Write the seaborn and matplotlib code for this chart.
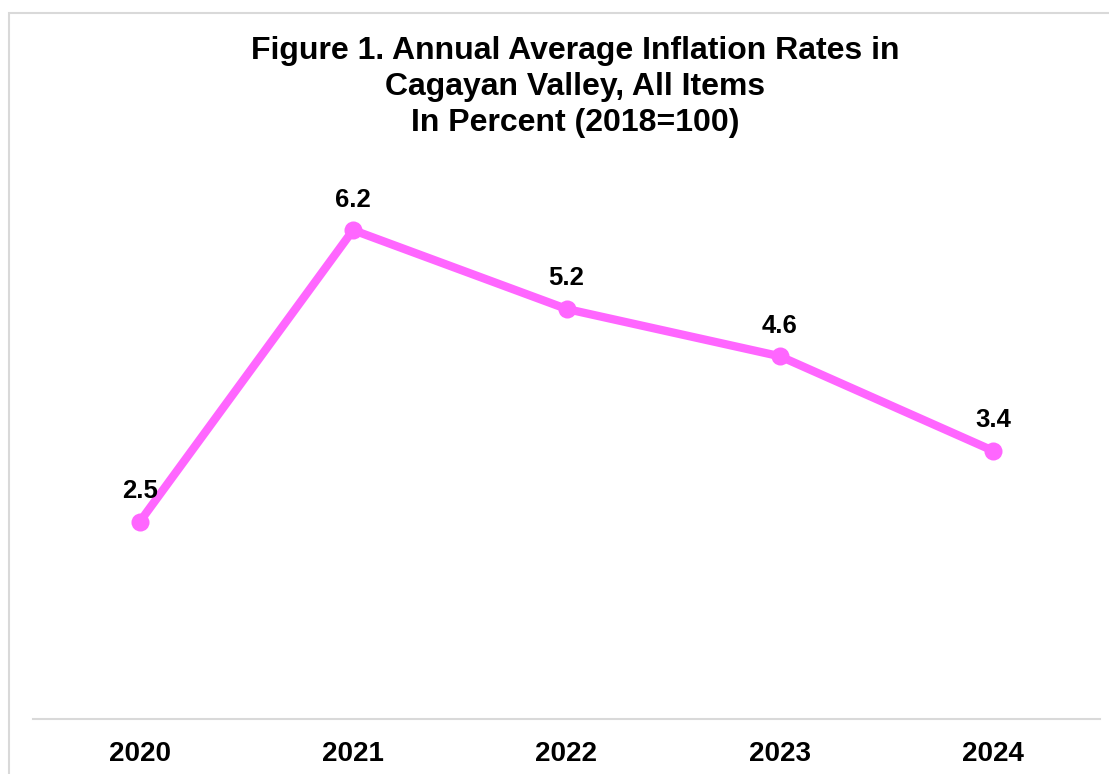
import pandas as pd
import seaborn as sns
import matplotlib.pyplot as plt
from matplotlib.patches import Rectangle

years = ["2020", "2021", "2022", "2023", "2024"]
inflation = [2.5, 6.2, 5.2, 4.6, 3.4]
title = "Figure 1. Annual Average Inflation Rates in\nCagayan Valley, All Items\nIn Percent (2018=100)"

df = pd.DataFrame({"Year": years, "Inflation": inflation})

sns.set_theme(style="white")
plt.rcParams["font.family"] = ["Liberation Sans", "DejaVu Sans"]

fig = plt.figure(figsize=(11.09, 7.74), dpi=100)
ax = fig.add_axes([33 / 1109, 1 - 719 / 774, 1067 / 1109, 552 / 774])

line_color = "#FF66FF"
sns.lineplot(data=df, x="Year", y="Inflation", ax=ax, color=line_color,
             linewidth=6, marker="o", markersize=13, markeredgewidth=0, sort=False)

for i, v in enumerate(inflation):
    ax.annotate(f"{v}", (i, v), xytext=(0, 22), textcoords="offset points",
                ha="center", va="center", fontsize=18.5, fontweight="bold", color="black")

ax.set_xlim(-0.5, len(years) - 0.5)
ax.set_ylim(0, 7)
ax.set_xlabel("")
ax.set_ylabel("")
ax.set_yticks([])
ax.tick_params(axis="x", length=0, pad=16, labelsize=20)
for lbl in ax.get_xticklabels():
    lbl.set_fontweight("bold")
    lbl.set_color("black")

for side in ["top", "left", "right"]:
    ax.spines[side].set_visible(False)
ax.spines["bottom"].set_color("#D9D9D9")
ax.spines["bottom"].set_linewidth(1.5)

fig.text(575 / 1109, 1 - 87 / 774, title, ha="center", va="center",
         fontsize=23, fontweight="bold", linespacing=1.26, color="black")

# chart border (cut off at right and bottom in the original)
fig.patches.append(Rectangle((8.5 / 1109, -0.1), 1.2, 1 - 13.5 / 774 + 0.1,
                             transform=fig.transFigure, fill=False,
                             edgecolor="#D9D9D9", linewidth=1.5))

fig.savefig("out.png", dpi=100)
